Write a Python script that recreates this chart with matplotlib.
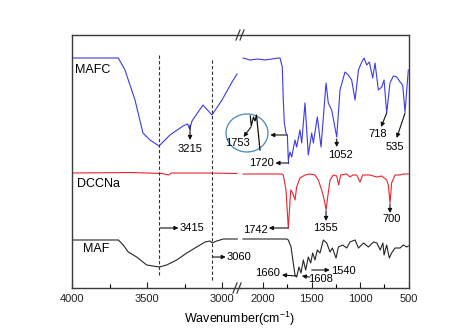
import matplotlib
matplotlib.use("Agg")
import matplotlib.pyplot as plt
from matplotlib.lines import Line2D
from matplotlib.patches import Ellipse
from matplotlib.ticker import MultipleLocator

plt.rcParams['font.family'] = ['Liberation Sans', 'DejaVu Sans']
plt.rcParams['mathtext.fontset'] = 'custom'
plt.rcParams['mathtext.rm'] = 'Liberation Sans'

# spectra: wavenumber (cm-1) and offset transmittance (a.u.)
mafc_wn_hi = [4000, 3691, 3647, 3580, 3527, 3480, 3420, 3347, 3260, 3230, 3215, 3200,
              3127, 3067, 3000, 2933, 2900]
mafc_t_hi = [230, 230, 218, 188, 155, 148, 142, 153, 162, 164, 159, 167,
             183, 173, 188, 206, 214]
mafc_wn_lo = [2206, 2134, 2052, 1979, 1907, 1845, 1825, 1801, 1791, 1780, 1763, 1749,
              1739, 1722, 1704, 1670, 1653, 1619, 1601, 1567, 1533, 1498, 1481, 1440,
              1402, 1350, 1327, 1292, 1240, 1206, 1155, 1121, 1086, 1051, 1016, 982,
              958, 931, 904, 869, 845, 811, 776, 752, 725, 691, 656, 621, 587, 560,
              536, 502]
mafc_t_lo = [230, 228, 229, 228, 229, 230, 230, 221, 188, 165, 155, 153,
             128, 136, 131, 148, 141, 158, 145, 185, 133, 155, 145, 171,
             141, 205, 185, 178, 151, 198, 216, 213, 208, 188, 218, 226,
             230, 223, 226, 210, 225, 198, 201, 208, 175, 205, 212, 211, 206, 203,
             176, 218]

dcc_wn_hi = [4000, 3600, 3400, 3355, 3340, 3100, 2900]
dcc_t_hi = [115, 115.5, 114.5, 113, 115, 115, 114.5]
dcc_wn_lo = [2206, 1807, 1791, 1763, 1739, 1714, 1694, 1670, 1653, 1619, 1567, 1515,
             1464, 1430, 1395, 1368, 1350, 1333, 1309, 1275, 1240, 1220, 1199, 1137,
             1103, 1075, 1034, 1000, 972, 897, 828, 776, 725, 708, 691, 674, 639,
             587, 553, 502]
dcc_t_lo = [114, 114, 113, 98, 60, 98, 95, 88, 101, 110, 113, 114,
            113, 108, 98, 88, 78, 91, 108, 113, 112, 103, 113, 114,
            111, 113, 113, 106, 113, 113, 111, 112, 108, 103, 85, 105, 113,
            113, 114, 114]

maf_wn_hi = [4000, 3691, 3658, 3625, 3569, 3502, 3418, 3369, 3302, 3235, 3169, 3113,
             3080, 3065, 3035, 2991, 2898]
maf_t_hi = [48, 48, 43, 36, 31, 23, 21, 23, 28, 35, 41, 46,
            47, 45, 47, 49, 49]
maf_wn_lo = [2206, 1756, 1739, 1711, 1688, 1670, 1653, 1629, 1608, 1584, 1560, 1533,
             1508, 1488, 1464, 1440, 1412, 1378, 1343, 1309, 1285, 1247, 1223, 1178,
             1137, 1103, 1051, 1016, 964, 913, 861, 826, 792, 764, 752, 725, 698,
             674, 639, 587, 553, 518, 502]
maf_t_lo = [49, 49, 48, 41, 25, 13, 11, 21, 15, 28, 18, 31,
            25, 35, 28, 38, 35, 48, 45, 36, 40, 30, 41, 43,
            40, 46, 48, 40, 45, 41, 46, 45, 38, 45, 33, 43, 30,
            35, 40, 40, 43, 41, 42]

# magnified view of the 1753 shoulder drawn inside the circle
zoom_wn = [2131, 2121, 2098, 2082, 2067, 2031]
zoom_t = [172, 162, 171, 167, 173, 138]

blue = '#3c3ce0'
red = '#e82430'
black = '#262626'
frame = '#3a3a3a'

fig = plt.figure(figsize=(4.74, 3.32), dpi=100)
ax1 = fig.add_axes([72 / 474, 44 / 332, 168 / 474, 253 / 332])
ax2 = fig.add_axes([240 / 474, 44 / 332, 169 / 474, 253 / 332])
ax1.set_zorder(3)
ax1.patch.set_visible(False)
ax2.patch.set_visible(False)

ax1.set_xlim(4000, 2880)
ax2.set_xlim(2237, 495)
for ax in (ax1, ax2):
    ax.set_ylim(0, 253)
    ax.set_yticks([])
    ax.tick_params(axis='x', direction='in', length=4, width=0.8, labelsize=8,
                   pad=4, colors='#222222')
    ax.tick_params(axis='x', which='minor', direction='in', length=3, width=0.8)
    for s in ax.spines.values():
        s.set_color(frame)
        s.set_linewidth(1.0)
ax1.spines['right'].set_visible(False)
ax2.spines['left'].set_visible(False)
ax1.xaxis.set_major_locator(MultipleLocator(500))
ax1.xaxis.set_minor_locator(MultipleLocator(250))
ax2.xaxis.set_major_locator(MultipleLocator(500))
ax2.xaxis.set_minor_locator(MultipleLocator(250))

lw = 0.8
ax1.plot(mafc_wn_hi, mafc_t_hi, color=blue, lw=lw)
ax2.plot(mafc_wn_lo, mafc_t_lo, color=blue, lw=lw)
ax1.plot(dcc_wn_hi, dcc_t_hi, color=red, lw=lw)
ax2.plot(dcc_wn_lo, dcc_t_lo, color=red, lw=lw)
ax1.plot(maf_wn_hi, maf_t_hi, color=black, lw=lw)
ax2.plot(maf_wn_lo, maf_t_lo, color=black, lw=lw)

# dashed guide lines
ax1.plot([3418, 3418], [13, 233], color='#333333', lw=0.8, ls=(0, (3, 2)))
ax1.plot([3065, 3065], [8, 228], color='#333333', lw=0.8, ls=(0, (3, 2)))

# series names
ax1.text(3980, 218, 'MAFC', fontsize=9, va='center', ha='left')
ax1.text(3965, 104, 'DCCNa', fontsize=9, va='center', ha='left')
ax1.text(3925, 39, 'MAF', fontsize=9, va='center', ha='left')


def arrow(ax, tail, head):
    ax.annotate('', xy=head, xytext=tail, annotation_clip=False,
                arrowprops=dict(arrowstyle='-|>', color='#111111', lw=0.8,
                                mutation_scale=6, shrinkA=0, shrinkB=0))


def label(ax, x, y, s, ha='center'):
    ax.text(x, y, s, fontsize=8, ha=ha, va='center', clip_on=False)


# left part
arrow(ax1, (3213, 163), (3213, 148))
label(ax1, 3213, 139, '3215')
arrow(ax1, (3413, 60), (3290, 60))
label(ax1, 3282, 60, '3415', ha='left')
arrow(ax1, (3062, 31), (2975, 31))
label(ax1, 2968, 31, '3060', ha='left')

# circle with the 1753 shoulder
ax2.add_patch(Ellipse((2165, 155), 433, 38, fill=False, edgecolor='#4a86b8',
                      lw=0.9, clip_on=False))
ax2.plot(zoom_wn, zoom_t, color='#111111', lw=0.9, clip_on=False)
arrow(ax2, (2124, 161), (2200, 151))
label(ax2, 2268, 145, '1753')
arrow(ax2, (1756, 153), (1925, 153))
ax2.plot([1739, 1739], [130, 125], color=blue, lw=0.8)
arrow(ax2, (1739, 125), (1872, 125))
label(ax2, 1890, 125, '1720', ha='right')
arrow(ax2, (1240, 149), (1240, 141))
label(ax2, 1206, 133, '1052')
arrow(ax2, (725, 175), (783, 161))
label(ax2, 817, 154, '718')
arrow(ax2, (536, 175), (622, 150))
label(ax2, 639, 141, '535')

arrow(ax2, (1739, 60), (1940, 60))
label(ax2, 1955, 58, '1742', ha='right')
arrow(ax2, (1350, 77), (1350, 67))
label(ax2, 1354, 60, '1355')
arrow(ax2, (691, 84), (691, 75))
label(ax2, 673, 69, '700')

arrow(ax2, (1653, 12), (1805, 13))
label(ax2, 1820, 15, '1660', ha='right')
arrow(ax2, (1520, 11), (1600, 12))
label(ax2, 1405, 9, '1608')
arrow(ax2, (1498, 18), (1312, 18))
label(ax2, 1302, 17, '1540', ha='left')


def fig_line(p0, p1):
    fig.add_artist(Line2D([p0[0] / 474, p1[0] / 474],
                          [1 - p0[1] / 332, 1 - p1[1] / 332],
                          transform=fig.transFigure, color=frame, lw=0.9))


# axis break marks
for bx, by in ((238, 288), (241, 35)):
    fig_line((bx - 5, by + 5), (bx - 1, by - 5))
    fig_line((bx - 1, by + 5), (bx + 3, by - 5))

fig.text(240 / 474, 13 / 332, 'Wavenumber(cm$^{\\mathregular{-1}}$)', fontsize=9,
         ha='center', va='center')

fig.savefig('out.png', dpi=100)
